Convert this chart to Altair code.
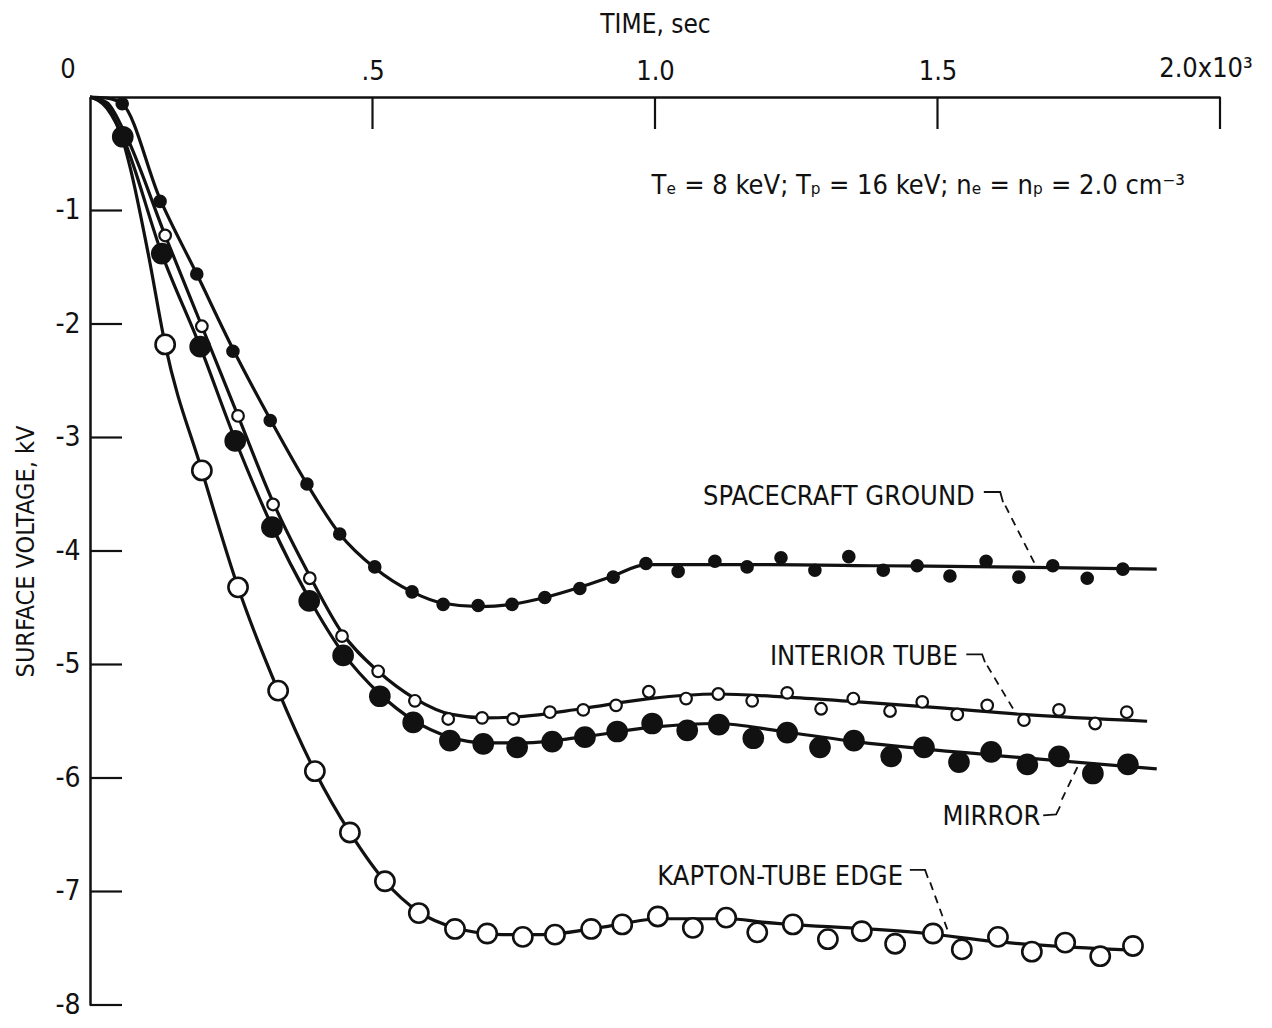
import altair as alt
import pandas as pd

# ---------------- data ----------------
# time in seconds, surface voltage in kV
sg_t = [57, 124, 189, 253, 319, 384, 442, 504, 570, 625, 687, 747, 805, 867, 926, 984, 1041, 1106, 1163, 1223,
        1283, 1343, 1404, 1464, 1522, 1586, 1644, 1704, 1765, 1828]
sg_v = [-0.06, -0.92, -1.56, -2.24, -2.85, -3.41, -3.85, -4.14, -4.36, -4.47, -4.48, -4.47, -4.41, -4.33, -4.23,
        -4.11, -4.18, -4.09, -4.14, -4.06, -4.17, -4.05, -4.17, -4.13, -4.22, -4.09, -4.23, -4.13, -4.24, -4.16]
sg_curve_t = [0, 30, 57, 124, 189, 253, 319, 384, 442, 504, 570, 625, 690, 747, 805, 867, 926, 984, 1060, 1200,
              1400, 1600, 1888]
sg_curve_v = [0, -0.01, -0.06, -0.90, -1.56, -2.22, -2.84, -3.41, -3.85, -4.15, -4.36, -4.46, -4.49, -4.47, -4.41,
              -4.32, -4.22, -4.12, -4.12, -4.12, -4.13, -4.14, -4.16]

it_t = [133, 198, 262, 324, 389, 446, 510, 575, 634, 694, 749, 814, 873, 931, 989, 1055, 1112, 1172, 1234, 1294,
        1351, 1416, 1473, 1535, 1588, 1653, 1715, 1779, 1835]
it_v = [-1.22, -2.02, -2.81, -3.59, -4.24, -4.75, -5.06, -5.32, -5.48, -5.47, -5.48, -5.42, -5.40, -5.36, -5.24,
        -5.30, -5.26, -5.32, -5.25, -5.39, -5.30, -5.41, -5.33, -5.44, -5.36, -5.49, -5.40, -5.52, -5.42]
it_curve_t = [0, 30, 60, 133, 198, 262, 324, 389, 446, 510, 575, 640, 700, 760, 870, 990, 1110, 1240, 1360, 1500,
              1650, 1871]
it_curve_v = [0, -0.05, -0.30, -1.22, -2.02, -2.81, -3.57, -4.22, -4.72, -5.06, -5.30, -5.44, -5.47, -5.46, -5.39,
              -5.30, -5.26, -5.29, -5.33, -5.38, -5.44, -5.50]

mi_t = [58, 127, 195, 257, 322, 388, 448, 513, 572, 637, 696, 756, 818, 876, 933, 995, 1057, 1113, 1174, 1234,
        1292, 1352, 1418, 1476, 1538, 1595, 1659, 1715, 1775, 1837]
mi_v = [-0.35, -1.38, -2.20, -3.03, -3.79, -4.44, -4.92, -5.28, -5.51, -5.67, -5.70, -5.73, -5.68, -5.64, -5.59,
        -5.52, -5.58, -5.53, -5.65, -5.60, -5.73, -5.67, -5.81, -5.73, -5.86, -5.77, -5.88, -5.81, -5.96, -5.88]
mi_curve_t = [0, 30, 58, 127, 195, 257, 322, 388, 448, 513, 572, 637, 700, 770, 870, 1000, 1110, 1225, 1340, 1600,
              1888]
mi_curve_v = [0, -0.08, -0.35, -1.38, -2.20, -3.02, -3.78, -4.42, -4.90, -5.26, -5.49, -5.64, -5.69, -5.69, -5.64,
              -5.55, -5.52, -5.59, -5.67, -5.80, -5.92]

kp_t = [133, 198, 262, 333, 398, 460, 522, 582, 646, 703, 766, 823, 887, 942, 1005, 1067, 1126, 1181, 1244, 1306,
        1366, 1425, 1492, 1543, 1607, 1667, 1726, 1788, 1846]
kp_v = [-2.18, -3.29, -4.32, -5.23, -5.94, -6.48, -6.91, -7.19, -7.33, -7.37, -7.40, -7.38, -7.33, -7.29, -7.22,
        -7.32, -7.23, -7.36, -7.29, -7.42, -7.35, -7.46, -7.37, -7.51, -7.40, -7.53, -7.45, -7.57, -7.48]
kp_curve_t = [0, 30, 58, 71, 103, 133, 198, 262, 333, 398, 460, 522, 582, 646, 730, 800, 900, 1010, 1130, 1190,
              1480, 1600, 1858]
kp_curve_v = [0, -0.10, -0.38, -0.62, -1.38, -2.18, -3.29, -4.32, -5.23, -5.94, -6.48, -6.91, -7.18, -7.32, -7.38,
              -7.38, -7.32, -7.24, -7.24, -7.27, -7.37, -7.44, -7.52]

# axes
x_tick_values = [500, 1000, 1500, 2000]
x_tick_labels = [".5", "1.0", "1.5", "2.0x10\u00b3"]
y_tick_values = [-1, -2, -3, -4, -5, -6, -7, -8]

# curve labels (right edge of text) and their leader lines
label_text = ["SPACECRAFT GROUND", "INTERIOR TUBE", "MIRROR", "KAPTON-TUBE EDGE"]
label_t = [1566, 1536, 1682, 1439]
label_v = [-3.52, -4.93, -6.34, -6.87]
hook_id = [0, 0, 0, 1, 1, 1, 2, 2, 2, 3, 3, 3]
hook_t = [1582, 1611, 1616, 1551, 1579, 1584, 1687, 1710, 1717, 1451, 1478, 1483]
hook_v = [-3.48, -3.48, -3.57, -4.91, -4.91, -4.98, -6.33, -6.32, -6.25, -6.81, -6.81, -6.88]
dash_t = [1620, 1588, 1720, 1487]
dash_v = [-3.60, -5.01, -6.19, -6.92]
dash_t2 = [1674, 1635, 1749, 1520]
dash_v2 = [-4.13, -5.40, -5.89, -7.37]

cond_text = "T\u2091 = 8 keV;  T\u209a = 16 keV;  n\u2091 = n\u209a = 2.0 cm\u207b\u00b3"
cond_t = [1466]
cond_v = [-0.78]

# ---------------- styling ----------------
FONT = "Liberation Sans Narrow, DejaVu Sans Condensed, Roboto Condensed, Liberation Sans, sans-serif"
BLACK = "#111111"

# the last tick label (with the exponent) is drawn as a text mark so it stays inside the page
label_expr = ""
for val, lab in zip(x_tick_values[:-1], x_tick_labels[:-1]):
    label_expr += f"datum.value == {val} ? '{lab}' : "
label_expr += "''"

x_enc = alt.X(
    "t:Q",
    scale=alt.Scale(domain=[0, 2000], nice=False, zero=False),
    axis=alt.Axis(
        orient="top", values=x_tick_values, labelExpr=label_expr, title="TIME, sec",
        ticks=False, grid=False, domainWidth=2.5, domainColor=BLACK,
        labelFontSize=27, titleFontSize=26, labelPadding=12, titlePadding=20,
        labelColor=BLACK, titleColor=BLACK, labelFont=FONT, titleFont=FONT,
        titleFontWeight="normal", labelFlush=False,
    ),
)
y_enc = alt.Y(
    "v:Q",
    scale=alt.Scale(domain=[-8, 0], nice=False, zero=False),
    axis=alt.Axis(
        values=y_tick_values, labelExpr="'-' + abs(datum.value)", title="SURFACE VOLTAGE, kV",
        ticks=False, grid=False, domainWidth=2.5, domainColor=BLACK,
        labelFontSize=28, titleFontSize=25, labelPadding=10, titlePadding=16,
        labelColor=BLACK, titleColor=BLACK, labelFont=FONT, titleFont=FONT,
        titleFontWeight="normal", labelFlush=False,
    ),
)

curves = pd.concat([
    pd.DataFrame({"t": sg_curve_t, "v": sg_curve_v, "s": "sg"}),
    pd.DataFrame({"t": it_curve_t, "v": it_curve_v, "s": "it"}),
    pd.DataFrame({"t": mi_curve_t, "v": mi_curve_v, "s": "mi"}),
    pd.DataFrame({"t": kp_curve_t, "v": kp_curve_v, "s": "kp"}),
])

lines = alt.Chart(curves).mark_line(
    interpolate="monotone", color=BLACK, strokeWidth=3.2
).encode(x=x_enc, y=y_enc, detail="s:N")

sg_pts = alt.Chart(pd.DataFrame({"t": sg_t, "v": sg_v})).mark_point(
    shape="circle", filled=True, fill=BLACK, size=185, opacity=1
).encode(x=x_enc, y=y_enc)
it_pts = alt.Chart(pd.DataFrame({"t": it_t, "v": it_v})).mark_point(
    shape="circle", filled=True, fill="white", stroke=BLACK, strokeWidth=2.2, size=135, opacity=1
).encode(x=x_enc, y=y_enc)
mi_pts = alt.Chart(pd.DataFrame({"t": mi_t, "v": mi_v})).mark_point(
    shape="circle", filled=True, fill=BLACK, size=470, opacity=1
).encode(x=x_enc, y=y_enc)
kp_pts = alt.Chart(pd.DataFrame({"t": kp_t, "v": kp_v})).mark_point(
    shape="circle", filled=True, fill="white", stroke=BLACK, strokeWidth=2.6, size=370, opacity=1
).encode(x=x_enc, y=y_enc)

# inward-pointing ticks
xt = alt.Chart(pd.DataFrame({"t": x_tick_values})).mark_rule(color=BLACK, strokeWidth=2.2).encode(
    x=x_enc, y=alt.value(0), y2=alt.value(32))
yt = alt.Chart(pd.DataFrame({"v": y_tick_values})).mark_rule(color=BLACK, strokeWidth=2.2).encode(
    y=y_enc, x=alt.value(0), x2=alt.value(32))

origin_lab = alt.Chart(pd.DataFrame({"t": [0], "v": [0], "txt": ["0"]})).mark_text(
    font=FONT, fontSize=27, color=BLACK, dx=-22, dy=-27, align="center", baseline="middle"
).encode(x=x_enc, y=y_enc, text="txt:N")

end_lab = alt.Chart(pd.DataFrame({"t": [x_tick_values[-1]], "v": [0], "txt": [x_tick_labels[-1]]})).mark_text(
    font=FONT, fontSize=27, color=BLACK, dx=-14, dy=-28, align="center", baseline="middle"
).encode(x=x_enc, y=y_enc, text="txt:N")

cond = alt.Chart(pd.DataFrame({"t": cond_t, "v": cond_v, "txt": [cond_text]})).mark_text(
    font=FONT, fontSize=27, color=BLACK, align="center", baseline="middle"
).encode(x=x_enc, y=y_enc, text="txt:N")

labels = alt.Chart(pd.DataFrame({"t": label_t, "v": label_v, "txt": label_text})).mark_text(
    font=FONT, fontSize=27, color=BLACK, align="right", baseline="middle"
).encode(x=x_enc, y=y_enc, text="txt:N")

hooks = alt.Chart(pd.DataFrame({"t": hook_t, "v": hook_v, "id": hook_id, "o": list(range(len(hook_t)))})).mark_line(
    color=BLACK, strokeWidth=1.8
).encode(x=x_enc, y=y_enc, detail="id:N", order="o:Q")

dashes = alt.Chart(pd.DataFrame({"t": dash_t, "v": dash_v, "t2": dash_t2, "v2": dash_v2})).mark_rule(
    color=BLACK, strokeWidth=1.8, strokeDash=[8, 6]
).encode(x=x_enc, y=y_enc, x2="t2:Q", y2="v2:Q")

chart = alt.layer(
    lines, hooks, dashes, sg_pts, it_pts, mi_pts, kp_pts, xt, yt, origin_lab, end_lab, cond, labels
).properties(
    width=1130, height=908,
    autosize=alt.AutoSizeParams(type="none"),
    padding={"left": 82, "top": 89, "right": 44, "bottom": 15},
    background="white",
).configure_view(stroke=None)

chart.save("out.html", embed_options={"renderer": "svg", "actions": False})
